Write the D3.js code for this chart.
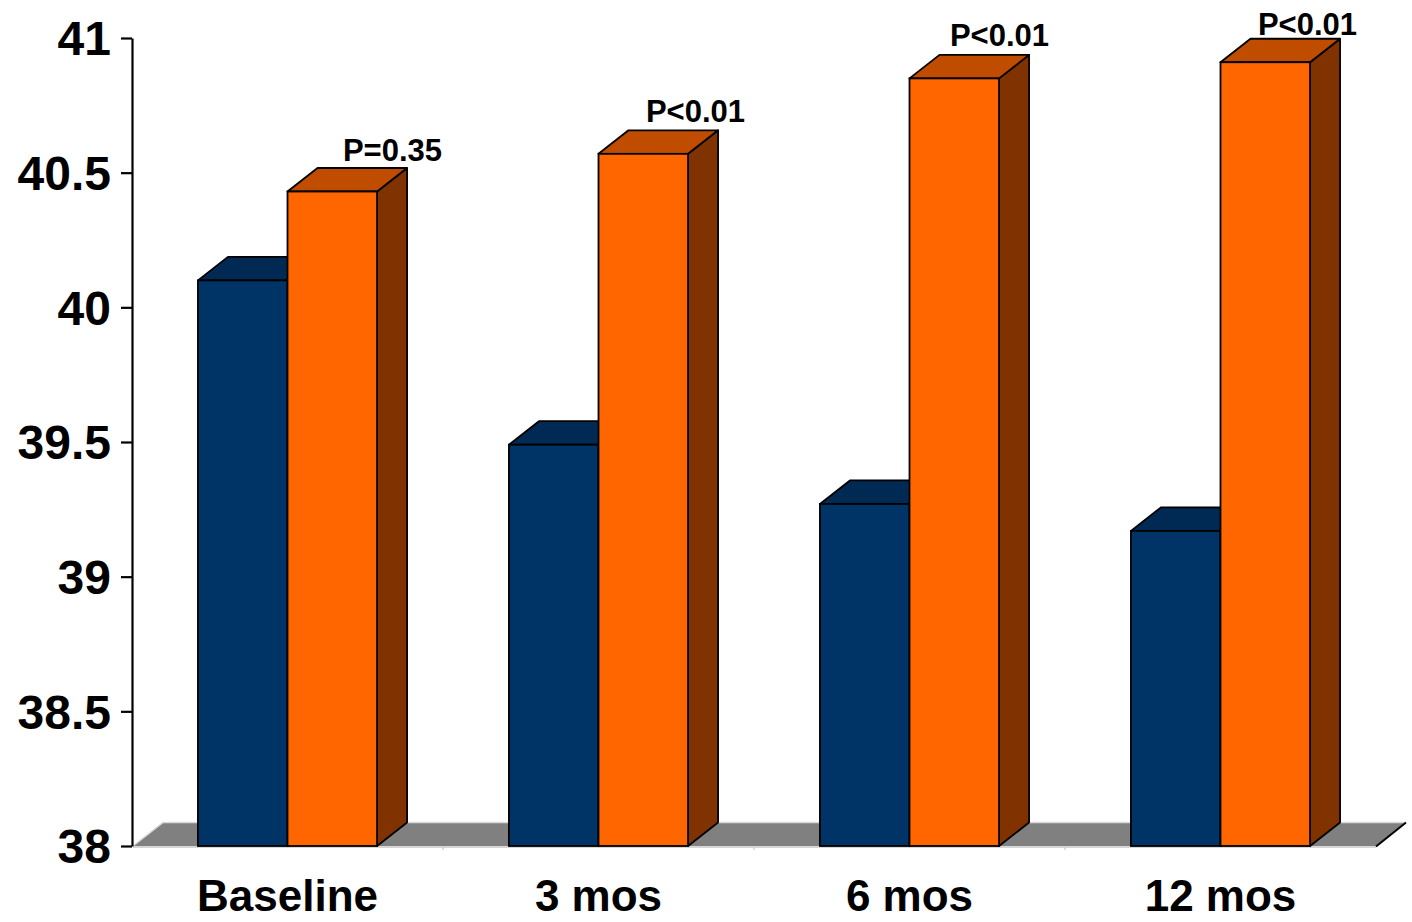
<!DOCTYPE html>
<html>
<head>
<meta charset="utf-8">
<script src="https://cdn.jsdelivr.net/npm/d3@7"></script>
<style>
  html, body { margin: 0; padding: 0; background: #ffffff; }
  svg { display: block; }
  text { font-family: "Liberation Sans", Arial, sans-serif; font-weight: bold; fill: #000; }
</style>
</head>
<body>
<svg id="chart" width="1412" height="922"></svg>
<script>
// Categories and the two series plotted for each
const categories = ["Baseline", "3 mos", "6 mos", "12 mos"];
const seriesA = [40.1, 39.49, 39.27, 39.17];
const seriesB = [40.43, 40.57, 40.85, 40.91];
const pLabels = ["P=0.35", "P<0.01", "P<0.01", "P<0.01"];
const yTicks = [38, 38.5, 39, 39.5, 40, 40.5, 41];

// Hand placement of the p-value annotations (pixels)
const pLabelNudgeX = [10, 2, -5, -8];
const pLabelNudgeY = [0, -1, -2, 3];

const svg = d3.select("#chart");

const plot = { left: 132, right: 1376, top: 38, bottom: 846 };
const depth = { dx: 30, dy: -23.5 };

const y = d3.scaleLinear().domain([38, 41]).range([plot.bottom, plot.top]);
const x = d3.scaleBand().domain(categories)
  .range([plot.left, plot.right])
  .paddingInner(0.424).paddingOuter(0.212);
const sub = d3.scaleBand().domain(["a", "b"]).range([0, x.bandwidth()]);

const colors = {
  a: { front: "#003366", top: "#002a54", side: "#001f3f" },
  b: { front: "#ff6600", top: "#c04c00", side: "#803300" }
};

// Floor of the 3D plot
const floor = svg.append("g");
floor.append("path")
  .attr("d", d3.line()([
    [plot.left + 1, plot.bottom],
    [plot.right, plot.bottom],
    [plot.right + depth.dx, plot.bottom + depth.dy],
    [plot.left + 1 + depth.dx, plot.bottom + depth.dy]
  ]) + "Z")
  .attr("fill", "#808080");
floor.append("path")
  .attr("d", d3.line()([
    [plot.left + 1, plot.bottom],
    [plot.left + 1 + depth.dx, plot.bottom + depth.dy],
    [plot.right + depth.dx, plot.bottom + depth.dy]
  ]))
  .attr("fill", "none").attr("stroke", "#d9d9d9").attr("stroke-width", 1.5);
floor.append("line")
  .attr("x1", plot.left + 1).attr("x2", plot.right)
  .attr("y1", plot.bottom + 1).attr("y2", plot.bottom + 1)
  .attr("stroke", "#c8c8c8").attr("stroke-width", 1.5);
floor.append("line")
  .attr("x1", plot.right).attr("y1", plot.bottom + 0.5)
  .attr("x2", plot.right + depth.dx).attr("y2", plot.bottom + depth.dy)
  .attr("stroke", "#000").attr("stroke-width", 2);

// Category boundary ticks along the front edge of the floor
const step = x.step();
floor.selectAll("line.sep")
  .data(d3.range(1, categories.length))
  .join("line")
  .attr("class", "sep")
  .attr("x1", i => plot.left + i * step).attr("x2", i => plot.left + i * step)
  .attr("y1", plot.bottom).attr("y2", plot.bottom + 4)
  .attr("stroke", "#d0d0d0").attr("stroke-width", 1.5);

// 3D bars: front face, top face, right side face
function drawBar(g, x0, w, v, c) {
  const y0 = y(38), y1 = y(v);
  const pts = (arr) => d3.line()(arr) + "Z";
  g.append("path")
    .attr("d", pts([[x0 + w, y1], [x0 + w + depth.dx, y1 + depth.dy],
                    [x0 + w + depth.dx, y0 + depth.dy], [x0 + w, y0]]))
    .attr("fill", c.side).attr("stroke", "#000").attr("stroke-width", 1.8)
    .attr("stroke-linejoin", "round");
  g.append("path")
    .attr("d", pts([[x0, y1], [x0 + w, y1], [x0 + w + depth.dx, y1 + depth.dy],
                    [x0 + depth.dx, y1 + depth.dy]]))
    .attr("fill", c.top).attr("stroke", "#000").attr("stroke-width", 1.8)
    .attr("stroke-linejoin", "round");
  g.append("rect")
    .attr("x", x0).attr("y", y1).attr("width", w).attr("height", y0 - y1)
    .attr("fill", c.front).attr("stroke", "#000").attr("stroke-width", 1.8);
}

const bars = svg.append("g");
categories.forEach((cat, i) => {
  const g = bars.append("g");
  drawBar(g, x(cat) + sub("a"), sub.bandwidth(), seriesA[i], colors.a);
  drawBar(g, x(cat) + sub("b"), sub.bandwidth(), seriesB[i], colors.b);
});

// p-value annotations above the taller bar of each pair
svg.append("g").selectAll("text")
  .data(categories)
  .join("text")
  .attr("x", (d, i) => x(d) + sub("b") + sub.bandwidth() + depth.dx + 25 + pLabelNudgeX[i])
  .attr("y", (d, i) => y(seriesB[i]) + depth.dy - 7 + pLabelNudgeY[i])
  .attr("text-anchor", "end")
  .style("font-size", "31px")
  .text((d, i) => pLabels[i]);

// Y axis
const yAxis = svg.append("g")
  .attr("transform", `translate(${plot.left},0)`)
  .call(d3.axisLeft(y).tickValues(yTicks).tickFormat(d3.format("~g"))
    .tickSize(11).tickSizeOuter(0).tickPadding(10));
yAxis.select(".domain").attr("stroke", "#000").attr("stroke-width", 2.2);
yAxis.selectAll(".tick line").attr("stroke", "#000").attr("stroke-width", 2.2);
yAxis.selectAll(".tick text")
  .style("font-size", "48px")
  .style("font-family", "'Liberation Sans', Arial, sans-serif")
  .style("font-weight", "bold")
  .attr("fill", "#000")
  .attr("dy", "0.35em");

// Category labels
svg.append("g").selectAll("text")
  .data(categories)
  .join("text")
  .attr("x", d => x(d) + x.bandwidth() / 2)
  .attr("y", 911)
  .attr("text-anchor", "middle")
  .style("font-size", "44px")
  .text(d => d);
</script>
</body>
</html>
